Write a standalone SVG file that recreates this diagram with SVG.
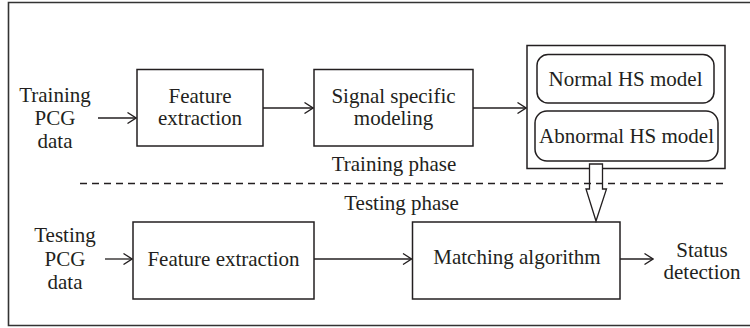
<svg xmlns="http://www.w3.org/2000/svg" width="750" height="328" viewBox="0 0 750 328">
  <style>
    text { font-family: 'Liberation Serif', 'Tinos', 'Times New Roman', 'DejaVu Serif', serif; font-size: 21px; fill: #231f20; text-anchor: middle; }
    .box { fill: #fff; stroke: #231f20; stroke-width: 1.5; }
    .line { fill: none; stroke: #231f20; stroke-width: 1.3; }
  </style>
  <defs>
    <marker id="open" viewBox="0 0 10 12" refX="9.5" refY="6" markerWidth="10" markerHeight="12" markerUnits="userSpaceOnUse" orient="auto">
      <path d="M1,0.5 L9.5,6 L1,11.5" fill="none" stroke="#231f20" stroke-width="1.3"/>
    </marker>
  </defs>

  <!-- outer frame -->
  <path d="M751,2.5 H8.5 V325.5 H751" fill="none" stroke="#333" stroke-width="1.6"/>

  <!-- training nodes -->
  <g id="train-input">
    <text x="55" y="102">Training</text>
    <text x="55" y="125">PCG</text>
    <text x="55" y="148">data</text>
  </g>
  <g id="train-feature">
    <rect class="box" x="137" y="69.5" width="126" height="76.5"/>
    <text x="200" y="103">Feature</text>
    <text x="200" y="125">extraction</text>
  </g>
  <g id="train-modeling">
    <rect class="box" x="314" y="69.5" width="159" height="76.5"/>
    <text x="393.5" y="103">Signal specific</text>
    <text x="393.5" y="125">modeling</text>
  </g>
  <g id="models">
    <rect class="box" x="527" y="45.5" width="198" height="123"/>
    <rect class="box" x="537" y="54.5" width="177" height="48.5" rx="11"/>
    <text x="625.5" y="86">Normal HS model</text>
    <rect class="box" x="535" y="111" width="183" height="50" rx="12"/>
    <text x="626.5" y="143">Abnormal HS model</text>
  </g>

  <!-- phase labels -->
  <g id="phases">
    <text x="394" y="171">Training phase</text>
    <text x="401.5" y="210">Testing phase</text>
  </g>

  <!-- testing nodes -->
  <g id="test-input">
    <text x="65" y="242">Testing</text>
    <text x="65" y="266">PCG</text>
    <text x="65" y="289">data</text>
  </g>
  <g id="test-feature">
    <rect class="box" x="133" y="222" width="181" height="77"/>
    <text x="223.5" y="266">Feature extraction</text>
  </g>
  <g id="matching">
    <rect class="box" x="412.5" y="222" width="207.5" height="77"/>
    <text x="517" y="264">Matching algorithm</text>
  </g>
  <g id="status">
    <text x="702" y="257">Status</text>
    <text x="702" y="279">detection</text>
  </g>

  <!-- connectors -->
  <g id="connectors">
    <line class="line" x1="98" y1="118" x2="136" y2="118" marker-end="url(#open)"/>
    <line class="line" x1="263" y1="108" x2="313" y2="108" marker-end="url(#open)"/>
    <line class="line" x1="473" y1="108" x2="526" y2="108" marker-end="url(#open)"/>
    <path d="M589.5,164 H602.5 V189 H606.5 L596,221 L586,189 H589.5 Z" fill="#fff" stroke="#231f20" stroke-width="1.3"/>
    <line x1="80" y1="183.5" x2="723" y2="183.5" stroke="#231f20" stroke-width="1.3" stroke-dasharray="7 5"/>
    <line class="line" x1="105" y1="259" x2="132" y2="259" marker-end="url(#open)"/>
    <line class="line" x1="314" y1="259" x2="411.5" y2="259" marker-end="url(#open)"/>
    <line class="line" x1="620" y1="259" x2="653" y2="259" marker-end="url(#open)"/>
  </g>
</svg>
